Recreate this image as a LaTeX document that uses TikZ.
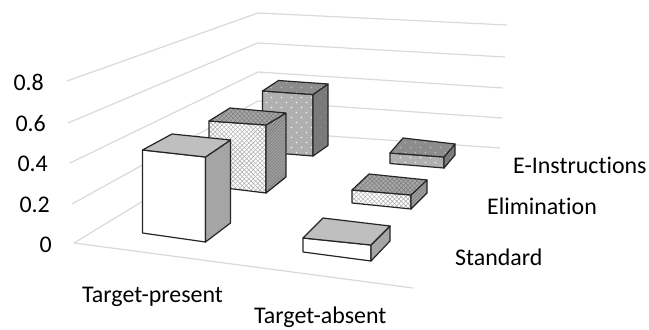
\documentclass[tikz,border=0pt]{standalone}
\usepackage{fontspec}
\setmainfont{Carlito}[Ligatures=NoCommon]
\usetikzlibrary{patterns}
\definecolor{gridgray}{HTML}{D9D9D9}
\definecolor{edgecol}{HTML}{262626}
\definecolor{stdtopc}{HTML}{BFBFBF}
\definecolor{stdsidec}{HTML}{A5A5A5}
\definecolor{elpat}{HTML}{A8A8A8}
\definecolor{eltopc}{HTML}{A8A8A8}
\definecolor{eltoppat}{HTML}{7A7A7A}
\definecolor{elsidec}{HTML}{A0A0A0}
\definecolor{elsidepat}{HTML}{6E6E6E}
\definecolor{eifrontc}{HTML}{B0B0B0}
\definecolor{eitopc}{HTML}{8C8C8C}
\definecolor{eisidec}{HTML}{7A7A7A}
\pgfdeclarepatternformonly{sparsedots}{\pgfqpoint{0pt}{0pt}}{\pgfqpoint{10pt}{10pt}}{\pgfqpoint{10pt}{10pt}}{%
  \pgfpathcircle{\pgfqpoint{2.5pt}{2.5pt}}{0.8pt}%
  \pgfpathcircle{\pgfqpoint{7.5pt}{7.5pt}}{0.8pt}%
  \pgfusepath{fill}}
\pgfdeclarepatternformonly{meshhatch}{\pgfqpoint{-0.5pt}{-0.5pt}}{\pgfqpoint{5pt}{5pt}}{\pgfqpoint{4.5pt}{4.5pt}}{%
  \pgfsetlinewidth{0.45pt}%
  \pgfpathmoveto{\pgfqpoint{0pt}{0pt}}\pgfpathlineto{\pgfqpoint{4.5pt}{4.5pt}}%
  \pgfpathmoveto{\pgfqpoint{0pt}{4.5pt}}\pgfpathlineto{\pgfqpoint{4.5pt}{0pt}}%
  \pgfusepath{stroke}}
\newcommand\drawcuboid[4]{%
  \path[#2] (#1flb) -- (#1frb) -- (#1frt) -- (#1flt) -- cycle;
  \path[#4] (#1frb) -- (#1brb) -- (#1brt) -- (#1frt) -- cycle;
  \path[#3] (#1flt) -- (#1frt) -- (#1brt) -- (#1blt) -- cycle;
}
\begin{document}
\begin{tikzpicture}[x=1bp,y=-1bp,
  gridln/.style={draw=gridgray,line width=1.2bp},
  baredge/.style={draw=edgecol,line width=1.2bp,line join=round},
  stdfront/.style={baredge,fill=white},
  stdtop/.style={baredge,fill=stdtopc},
  stdside/.style={baredge,fill=stdsidec},
  elfront/.style={baredge,preaction={fill=white},pattern=meshhatch,pattern color=elpat},
  eltop/.style={baredge,preaction={fill=eltopc},pattern=meshhatch,pattern color=eltoppat},
  elside/.style={baredge,preaction={fill=elsidec},pattern=north east lines,pattern color=elsidepat},
  eifront/.style={baredge,preaction={fill=eifrontc},pattern=sparsedots,pattern color=white!95!black},
  eitop/.style={baredge,preaction={fill=eitopc},pattern=sparsedots,pattern color=white!75!black},
  eiside/.style={baredge,preaction={fill=eisidec},pattern=sparsedots,pattern color=white!55!black},
  lbl/.style={font=\fontsize{24}{26}\selectfont,inner sep=0pt}]
\useasboundingbox (0,0) rectangle (649,329);
% grid coordinates
\coordinate (l8) at (67,81);  \coordinate (c8) at (258,13);  \coordinate (r8) at (507,25);
\coordinate (l6) at (68,123); \coordinate (c6) at (257.5,43); \coordinate (r6) at (505,57);
\coordinate (l4) at (70,163); \coordinate (c4) at (258,72);  \coordinate (r4) at (503,88);
\coordinate (l2) at (72,204); \coordinate (c2) at (258,101); \coordinate (r2) at (502,118);
\coordinate (l0) at (74,243); \coordinate (c0) at (258,131); \coordinate (r0) at (500,148);
\coordinate (f0) at (413,288);
\foreach \k in {8,6,4,2,0} {\draw[gridln] (l\k) -- (c\k) -- (r\k);}
\draw[gridln] (l0) -- (f0);
% bar 3: Target-present, E-Instructions
\coordinate (b3flt) at (262.5,91); \coordinate (b3frt) at (313,94.5); \coordinate (b3brt) at (328,84); \coordinate (b3blt) at (278.5,80.5);
\coordinate (b3flb) at (262.5,152); \coordinate (b3frb) at (313,156); \coordinate (b3brb) at (328,145.5);
% bar 6: Target-absent, E-Instructions
\coordinate (b6flt) at (390,153); \coordinate (b6frt) at (444,157); \coordinate (b6brt) at (455,144); \coordinate (b6blt) at (403,138);
\coordinate (b6flb) at (390,163.5); \coordinate (b6frb) at (444,168); \coordinate (b6brb) at (455,155);
% bar 2: Target-present, Elimination
\coordinate (b2flt) at (209,121); \coordinate (b2frt) at (266,125); \coordinate (b2brt) at (286,113); \coordinate (b2blt) at (230,108);
\coordinate (b2flb) at (209,186); \coordinate (b2frb) at (266,193); \coordinate (b2brb) at (286,177);
% bar 5: Target-absent, Elimination
\coordinate (b5flt) at (352,190); \coordinate (b5frt) at (411,195); \coordinate (b5brt) at (427,180); \coordinate (b5blt) at (369,174);
\coordinate (b5flb) at (352,203); \coordinate (b5frb) at (411,209); \coordinate (b5brb) at (427,193);
% bar 1: Target-present, Standard
\coordinate (b1flt) at (142.5,150); \coordinate (b1frt) at (205.5,157); \coordinate (b1brt) at (230.5,140); \coordinate (b1blt) at (172,134);
\coordinate (b1flb) at (142.5,233); \coordinate (b1frb) at (205.5,242); \coordinate (b1brb) at (230.5,223);
% bar 4: Target-absent, Standard
\coordinate (b4flt) at (303,238); \coordinate (b4frt) at (371,245); \coordinate (b4brt) at (390,226); \coordinate (b4blt) at (323,218);
\coordinate (b4flb) at (303,252); \coordinate (b4frb) at (371,261); \coordinate (b4brb) at (390,241);
\drawcuboid{b3}{eifront}{eitop}{eiside}
\drawcuboid{b6}{eifront}{eitop}{eiside}
\drawcuboid{b2}{elfront}{eltop}{elside}
\drawcuboid{b5}{elfront}{eltop}{elside}
\drawcuboid{b1}{stdfront}{stdtop}{stdside}
\drawcuboid{b4}{stdfront}{stdtop}{stdside}
% axis labels
\node[lbl,anchor=base east] (t8) at (44,90) {0.8};
\node[lbl,anchor=base east] (t6) at (46,131) {0.6};
\node[lbl,anchor=base east] (t4) at (48,171.5) {0.4};
\node[lbl,anchor=base east] (t2) at (50,212) {0.2};
\node[lbl,anchor=base east] (t0) at (52,252) {0};
\node[lbl,anchor=base west] (ctp) at (82,302) {Target-present};
\node[lbl,anchor=base west] (cta) at (254,323) {Target-absent};
\node[lbl,anchor=base west] (sst) at (455,265) {Standard};
\node[lbl,anchor=base west] (sel) at (487,214) {Elimination};
\node[lbl,anchor=base west] (sei) at (513,173) {E-Instructions};
\end{tikzpicture}
\end{document}
